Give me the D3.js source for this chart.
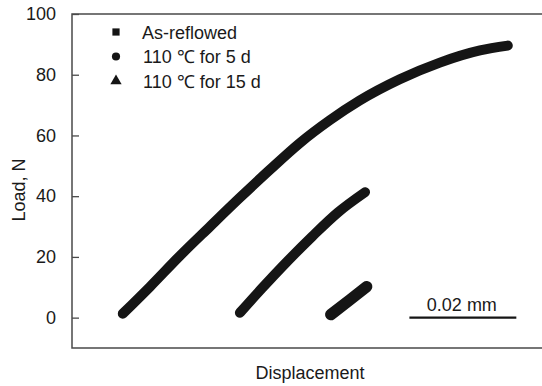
<!DOCTYPE html>
<html>
<head>
<meta charset="utf-8">
<script src="https://cdn.jsdelivr.net/npm/d3@7"></script>
<style>
  body { margin: 0; background: #fff; }
  text { font-family: "Liberation Sans", Arial, sans-serif; fill: #1a1a1a; }
</style>
</head>
<body>
<div id="chart"></div>
<script>
// displacement in mm, load in N
var asReflowedX = [0.0095, 0.0146, 0.0202, 0.0258, 0.0314, 0.0370, 0.0426, 0.0482, 0.0538, 0.0613, 0.0688, 0.0763, 0.0815];
var asReflowedY = [1.3, 10.2, 20.4, 30.0, 39.5, 48.7, 57.5, 65.0, 71.5, 78.5, 84.0, 88.0, 89.6];

var aged5X = [0.0314, 0.0355, 0.0402, 0.0449, 0.0497, 0.0548];
var aged5Y = [1.6, 9.6, 18.4, 26.7, 34.6, 41.3];

var aged15X = [0.0484, 0.0520, 0.0551];
var aged15Y = [1.0, 5.9, 10.2];

var seriesNames = ["As-reflowed", "110 \u2103 for 5 d", "110 \u2103 for 15 d"];
var yTicks = [0, 20, 40, 60, 80, 100];

var svgWidth = 542;
var svgHeight = 386;
var margin = {top: 14, right: 0, bottom: 38, left: 72};
var width = svgWidth - margin.left - margin.right;
var height = svgHeight - margin.top - margin.bottom;

var svg = d3.select("#chart")
  .append("svg")
  .attr("width", svgWidth)
  .attr("height", svgHeight);

var chartGroup = svg.append("g")
  .attr("transform", `translate(${margin.left},${margin.top})`);

var xScale = d3.scaleLinear().domain([0, 0.0879]).range([0, width]);
var yScale = d3.scaleLinear().domain([-10, 100]).range([height, 0]);

// frame (no right border, runs off the edge)
chartGroup.append("path")
  .attr("d", `M${width + 10},0H0V${height}H${width + 10}`)
  .attr("fill", "none")
  .attr("stroke", "#4a4a4a")
  .attr("stroke-width", 1.5);

var leftAxis = d3.axisLeft(yScale)
  .tickValues(yTicks)
  .tickSize(-7)
  .tickPadding(16);

var yAxis = chartGroup.append("g").call(leftAxis);
yAxis.select(".domain").remove();
yAxis.selectAll(".tick line").attr("stroke", "#4a4a4a").attr("stroke-width", 1.3);
yAxis.selectAll(".tick text")
  .style("font-size", "18px")
  .attr("fill", "#1a1a1a")
  .style("font-family", "'Liberation Sans', Arial, sans-serif");

// curves
var line = d3.line()
  .x(d => xScale(d[0]))
  .y(d => yScale(d[1]))
  .curve(d3.curveMonotoneX);

var series = [
  {name: seriesNames[0], xs: asReflowedX, ys: asReflowedY, w: 10},
  {name: seriesNames[1], xs: aged5X, ys: aged5Y, w: 10},
  {name: seriesNames[2], xs: aged15X, ys: aged15Y, w: 11.5}
];

series.forEach(function(s) {
  var pts = s.xs.map((x, i) => [x, s.ys[i]]);
  chartGroup.append("path")
    .datum(pts)
    .attr("d", line)
    .attr("fill", "none")
    .attr("stroke", "#151515")
    .attr("stroke-width", s.w)
    .attr("stroke-linecap", "round")
    .attr("stroke-linejoin", "round");
});

// legend
var symbols = [d3.symbolSquare, d3.symbolCircle, d3.symbolTriangle];
var legend = svg.append("g").attr("transform", "translate(116,32)");
seriesNames.forEach(function(name, i) {
  var row = legend.append("g").attr("transform", `translate(0,${i * 24.5})`);
  row.append("path")
    .attr("d", d3.symbol().type(symbols[i]).size(i === 2 ? 55 : 52)())
    .attr("fill", "#151515");
  row.append("text")
    .attr("x", i === 0 ? 26 : 27)
    .attr("y", 6.5)
    .style("font-size", "18px")
    .text(name);
});

// scale bar 0.02 mm
var barStart = 0.0631;
chartGroup.append("line")
  .attr("x1", xScale(barStart))
  .attr("x2", xScale(barStart + 0.02))
  .attr("y1", yScale(0))
  .attr("y2", yScale(0))
  .attr("stroke", "#151515")
  .attr("stroke-width", 2.2);

chartGroup.append("text")
  .attr("x", xScale(barStart + 0.01) - 1)
  .attr("y", yScale(0) - 7)
  .attr("text-anchor", "middle")
  .style("font-size", "18px")
  .text("0.02 mm");

// axis labels
svg.append("text")
  .attr("x", margin.left + width / 2 + 3)
  .attr("y", 379)
  .attr("text-anchor", "middle")
  .style("font-size", "18px")
  .text("Displacement");

svg.append("text")
  .attr("transform", "translate(25,190) rotate(-90)")
  .attr("text-anchor", "middle")
  .style("font-size", "18px")
  .text("Load, N");
</script>
</body>
</html>
